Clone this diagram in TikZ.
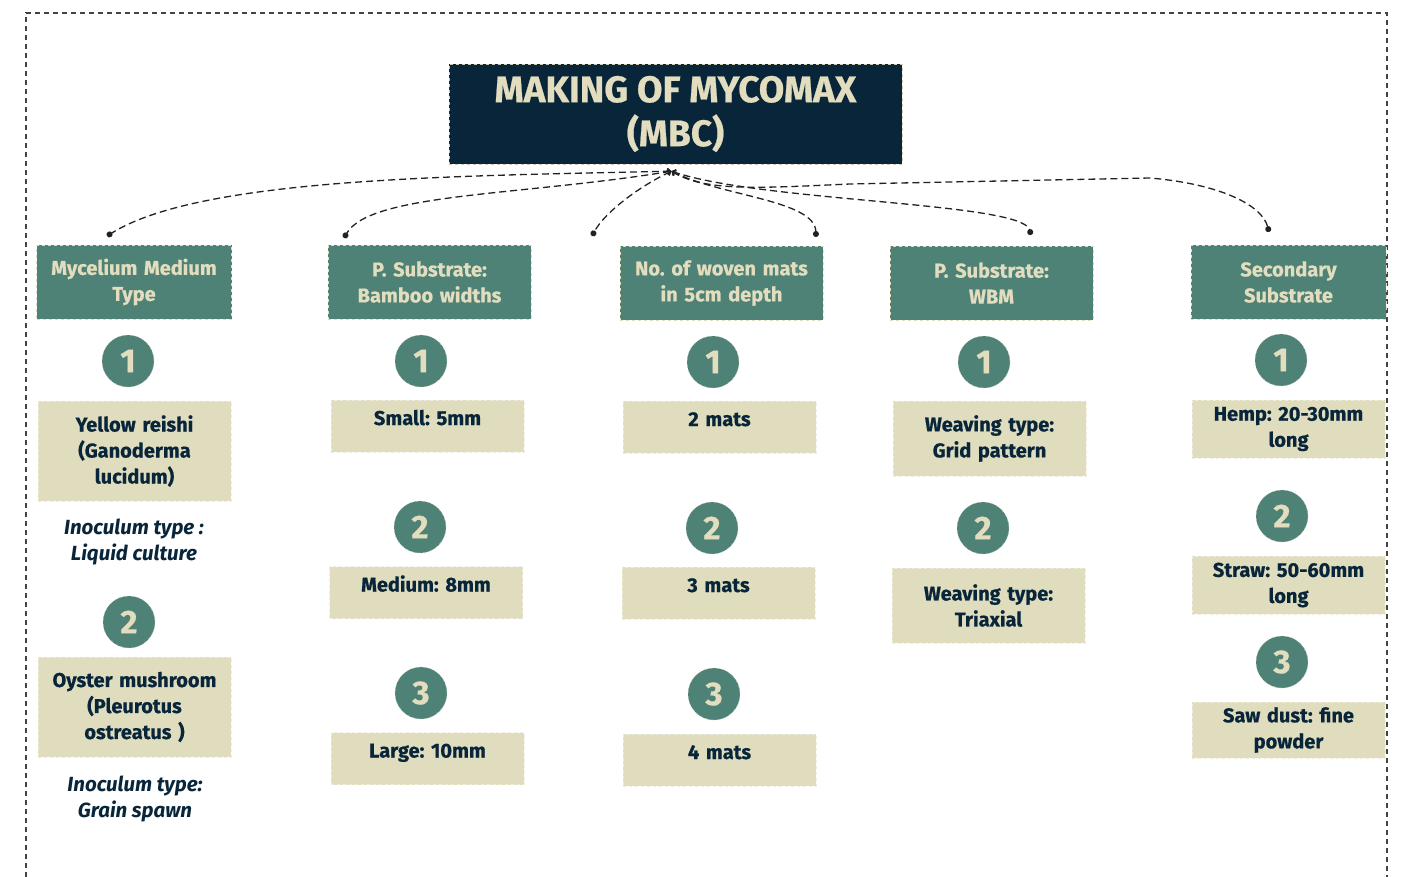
\documentclass[tikz,border=0pt]{standalone}
\usepackage{fontspec}
\setmainfont{Fira Sans}[BoldFeatures={FakeBold=0.6}]
\usetikzlibrary{arrows.meta}
\definecolor{mycoNavy}{HTML}{08253A}
\definecolor{mycoTeal}{HTML}{4E8276}
\definecolor{mycoCream}{HTML}{E2DDBE}
\definecolor{mycoSand}{HTML}{E0DCBE}
\definecolor{linkGray}{HTML}{222222}
\frenchspacing
\begin{document}
\begin{tikzpicture}[
      x=1pt, y=-1pt,
      every node/.style={inner sep=0pt, align=center},
      head/.style={draw=mycoCream!80!gray, dashed, fill=mycoNavy, text=mycoCream, minimum width=453pt, minimum height=100pt, font=\fontsize{37}{44}\selectfont\bfseries},
      cat/.style={draw=mycoCream, dashed, fill=mycoTeal, text=mycoCream, text width=195pt, minimum height=74pt, font=\fontsize{20}{26}\selectfont\bfseries},
      num/.style={circle, draw=mycoCream!70!mycoTeal, dashed, fill=mycoTeal, text=mycoCream, minimum size=52pt, font=\fontsize{33}{33}\selectfont\bfseries},
      item/.style={draw=white!50!mycoSand, dashed, fill=mycoSand, text=mycoNavy, text width=190pt, minimum width=193pt, font=\fontsize{20}{26}\selectfont\bfseries},
      oneline/.style={item, text height=25pt, text depth=27pt},
      note/.style={text=mycoNavy, font=\fontsize{20.5}{26}\selectfont\bfseries\itshape},
      link/.style={draw=linkGray, line width=1.3pt, dash pattern=on 7pt off 4pt, {Straight Barb[length=3pt]}-{Circle[length=6pt]}}
    ]
      \useasboundingbox (0,0) rectangle (1404,877);
      \draw[linkGray!85, line width=1.2pt, dash pattern=on 5pt off 4pt] (26,877) -- (26,13) -- (1387,13) -- (1387,877);

      \node[head] (title) at (675.5,114) {MAKING OF MYCOMAX\\(MBC)};

      \node[cat, minimum width=192pt] (medium) at (134,282) {Mycelium Medium\\Type};
      \node[cat, minimum width=203pt] (bamboo) at (429.5,282) {P. Substrate:\\Bamboo widths};
      \node[cat, minimum width=203pt] (mats) at (721.5,283) {No. of woven mats\\in 5cm depth};
      \node[cat, minimum width=203pt] (wbm) at (991.5,283) {P. Substrate:\\WBM};
      \node[cat, minimum width=193pt] (second) at (1288.5,282) {Secondary\\Substrate};

      \foreach \n/\x/\y/\t in {m1/128/361/1, m2/129/622/2,
                               b1/421/361/1, b2/420/527/2, b3/421/693/3,
                               w1/713/362/1, w2/712/528/2, w3/714/694/3,
                               g1/984/362/1, g2/983/528/2,
                               s1/1281/360/1, s2/1282/516/2, s3/1282/662/3}
        \node[num] (\n) at (\x,\y) {\t};

      \node[item, minimum height=100pt] (reishi) at (134.5,451) {Yellow reishi\\(Ganoderma\\lucidum)};
      \node[note] (liquid) at (134,542) {Inoculum type :\\Liquid culture};
      \node[item, minimum height=100pt] (oyster) at (134.5,707) {Oyster mushroom\\(Pleurotus\\ostreatus )};
      \node[note] (grain) at (135,799) {Inoculum type:\\Grain spawn};

      \node[oneline] (small) at (427.5,426) {Small: 5mm};
      \node[oneline] (mid) at (426,592.5) {Medium: 8mm};
      \node[oneline] (large) at (427.5,758.5) {Large: 10mm};

      \node[oneline] (two) at (719.5,427) {2 mats};
      \node[oneline] (three) at (718.5,593) {3 mats};
      \node[oneline] (four) at (719.5,760) {4 mats};

      \node[item, minimum height=75pt] (grid) at (989.5,438.5) {Weaving type:\\Grid pattern};
      \node[item, minimum height=75pt] (triax) at (988.5,605.5) {Weaving type:\\Triaxial};

      \node[item, minimum height=58pt] (hemp) at (1288.5,429) {Hemp: 20-30mm\\long};
      \node[item, minimum height=58pt] (straw) at (1288.5,585) {Straw: 50-60mm\\long};
      \node[item, minimum height=56pt] (saw) at (1288.5,730) {Saw dust: fine\\powder};

      \coordinate (hub) at ([xshift=-4pt, yshift=-7pt]title.south);
      \coordinate (d1) at (107,236);
      \coordinate (d2) at (344,238);
      \coordinate (d3) at (592,236);
      \coordinate (d4) at (816,237);
      \coordinate (d5) at (1031,235);
      \coordinate (d6) at (1269,232);

      \draw[link] (hub) .. controls (450,176) and (200,178) .. (d1);
      \draw[link] (hub) .. controls (520,196) and (370,193) .. (d2);
      \draw[link] (hub) .. controls (640,186) and (605,212) .. (d3);
      \draw[link] (hub) .. controls (720,196) and (815,200) .. (d4);
      \draw[link] (hub) .. controls (760,202) and (1022,202) .. (d5);
      \draw[link] (hub) .. controls (705,192) and (760,188) .. (850,184) -- (1150,178) .. controls (1220,184) and (1262,205) .. (d6);
    \end{tikzpicture}
\end{document}
